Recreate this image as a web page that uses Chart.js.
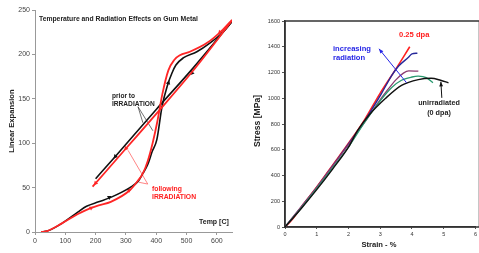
<!DOCTYPE html>
<html>
<head>
<meta charset="utf-8">
<script src="https://cdn.jsdelivr.net/npm/chart.js@4"></script>
<style>
  html, body { margin: 0; padding: 0; background: #fff; }
  #wrap { position: relative; width: 479px; height: 253px; overflow: hidden; }
  #left { position: absolute; left: 0; top: 0; }
  #right { position: absolute; left: 240px; top: 0; }
</style>
</head>
<body>
<div id="wrap">
  <canvas id="left" width="240" height="253"></canvas>
  <canvas id="right" width="239" height="253"></canvas>
</div>
<script>
// ---- left chart: linear expansion vs temperature ----
var tempHeatBlack = [20, 40, 90, 140, 170, 210, 250, 313, 340, 356, 372, 386, 402, 419, 437, 452, 465, 489, 534, 578, 620, 650];
var expHeatBlack  = [0, 1, 10, 22, 29, 34, 39, 50, 57, 66, 76, 90, 104, 141, 165, 179, 188, 196, 203, 213, 225, 237];
var tempHeatRed = [20, 40, 90, 140, 170, 210, 250, 313, 340, 356, 372, 388, 404, 420, 440, 460, 478, 511, 568, 620, 650];
var expHeatRed  = [0, 1, 10, 20, 25, 30, 34, 47, 58, 66, 80, 100, 125, 155, 182, 194, 199, 203, 213, 228, 239];
var tempCoolBlack = [650, 520, 400, 265, 200];
var expCoolBlack  = [237, 184, 138, 85, 60];
var tempCoolRed = [650, 520, 400, 300, 190];
var expCoolRed  = [238, 181, 133, 94, 51];
var tempTicks = [0, 100, 200, 300, 400, 500, 600];
var priorLine1 = [[340, 141], [356, 123]];
var priorLine2 = [[340, 141], [389, 114]];
var follLine1 = [[372, 54], [307, 92]];
var follLine2 = [[372, 54], [343, 56]];
var markBlack = [[245, 39, 60], [440, 168, 15], [265, 85, 221], [518, 179, 221]];
var markRed = [[185, 27, 60], [310, 47, 55], [200, 55, 221], [300, 94, 221], [610, 225, 221]];

// ---- right chart: stress vs strain ----
var strainRed = [0, 0.2, 0.5, 1, 1.5, 2, 2.5, 3, 3.5, 3.93];
var stressRed = [0, 50, 150, 310, 480, 650, 830, 1040, 1230, 1400];
var strainBlue = [0, 0.5, 1, 1.5, 2, 2.5, 3, 3.37, 3.58, 3.89, 4.0, 4.17];
var stressBlue = [0, 150, 305, 475, 645, 820, 1020, 1180, 1250, 1318, 1345, 1350];
var strainPurple = [0, 0.5, 1, 1.5, 2, 2.5, 3, 3.2, 3.5, 3.73, 3.9, 4.2];
var stressPurple = [0, 155, 310, 475, 640, 810, 990, 1055, 1145, 1195, 1212, 1210];
var strainGreen = [0, 0.5, 1, 1.5, 2, 2.5, 3, 3.37, 3.67, 4.0, 4.2, 4.45, 4.66];
var stressGreen = [0, 145, 300, 460, 620, 810, 980, 1085, 1140, 1165, 1172, 1160, 1120];
var strainBlack = [0, 0.5, 1, 1.5, 2, 2.29, 2.65, 3.17, 3.67, 4.2, 4.6, 4.9, 5.15];
var stressBlack = [0, 140, 290, 450, 620, 750, 870, 1000, 1100, 1145, 1155, 1140, 1120];
var arrowBlue = [[3.83, 1120], [2.96, 1384]];
var arrowBlack = [[4.94, 1003], [4.91, 1128]];

function pts(xs, ys) {
  return xs.map(function (x, i) { return { x: x, y: ys[i] }; });
}
function pairs(a) {
  return a.map(function (p) { return { x: p[0], y: p[1] }; });
}

Chart.defaults.font.family = "'Liberation Sans', Arial, sans-serif";
Chart.defaults.animation = false;

function txt(ctx, s, x, y, font, color, align) {
  ctx.save();
  ctx.font = font;
  ctx.fillStyle = color;
  ctx.textAlign = align || 'left';
  ctx.textBaseline = 'middle';
  ctx.fillText(s, x, y);
  ctx.restore();
}

function line(color, width) {
  return { type: 'scatter', showLine: true, borderColor: color, borderWidth: width, pointRadius: 0,
    tension: 0.4, cubicInterpolationMode: 'monotone', fill: false };
}

function marks(arr, color) {
  return {
    type: 'scatter', data: pairs(arr), showLine: false,
    pointStyle: 'triangle', pointRadius: 2.6, backgroundColor: color, borderColor: color, borderWidth: 0,
    rotation: function (c) { return arr[c.dataIndex] ? arr[c.dataIndex][2] : 0; }
  };
}

var leftText = {
  id: 'leftText',
  afterDraw: function (chart) {
    var ctx = chart.ctx;
    txt(ctx, 'Temperature and Radiation Effects on Gum Metal', 39, 19, 'bold 6.8px Liberation Sans', '#222');
    txt(ctx, 'prior to', 112, 96, 'bold 6.6px Liberation Sans', '#222');
    txt(ctx, 'IRRADIATION', 112, 104, 'bold 6.6px Liberation Sans', '#222');
    txt(ctx, 'following', 152, 189, 'bold 6.8px Liberation Sans', '#ff2020');
    txt(ctx, 'IRRADIATION', 152, 197, 'bold 6.8px Liberation Sans', '#ff2020');
    txt(ctx, 'Temp [C]', 199, 222, 'bold 7px Liberation Sans', '#222');
    ctx.save();
    ctx.translate(12, 121);
    ctx.rotate(-Math.PI / 2);
    txt(ctx, 'Linear Expansion', 0, 0, 'bold 7.6px Liberation Sans', '#222', 'center');
    ctx.restore();
  }
};

new Chart(document.getElementById('left'), {
  type: 'scatter',
  data: {
    datasets: [
      Object.assign(line('#ff2626', 1.8), { data: pts(tempHeatRed, expHeatRed) }),
      Object.assign(line('#ff2626', 1.8), { data: pts(tempCoolRed, expCoolRed), tension: 0 }),
      Object.assign(line('#111', 1.6), { data: pts(tempHeatBlack, expHeatBlack) }),
      Object.assign(line('#111', 1.6), { data: pts(tempCoolBlack, expCoolBlack), tension: 0 }),
      Object.assign(line('#333', 0.7), { data: pairs(priorLine1), tension: 0 }),
      Object.assign(line('#333', 0.7), { data: pairs(priorLine2), tension: 0 }),
      Object.assign(line('#ff5050', 0.7), { data: pairs(follLine1), tension: 0 }),
      Object.assign(line('#ff5050', 0.7), { data: pairs(follLine2), tension: 0 }),
      marks(markRed, '#ff2626'),
      marks(markBlack, '#111')
    ]
  },
  options: {
    responsive: false,
    layout: { padding: { top: 10, right: 8, left: 0, bottom: 0 } },
    plugins: { legend: { display: false }, tooltip: { enabled: false } },
    scales: {
      x: {
        type: 'linear', min: 0, max: 650,
        afterFit: function (s) { s.height = 21; },
        afterBuildTicks: function (s) { s.ticks = tempTicks.map(function (v) { return { value: v }; }); },
        border: { display: true, color: '#999', width: 1 },
        grid: { display: true, drawOnChartArea: false, tickLength: 3, color: '#999' },
        ticks: { autoSkip: false, maxRotation: 0, color: '#444', font: { size: 7 }, padding: 2 }
      },
      y: {
        type: 'linear', min: 0, max: 250,
        afterFit: function (s) { s.width = 35; },
        border: { display: true, color: '#999', width: 1 },
        grid: { display: true, drawOnChartArea: false, tickLength: 3, color: '#999' },
        ticks: { stepSize: 50, color: '#444', font: { size: 7 }, padding: 2 }
      }
    }
  },
  plugins: [leftText]
});

function arrow(ctx, xs, ys, a, color) {
  var x0 = xs.getPixelForValue(a[0][0]), y0 = ys.getPixelForValue(a[0][1]);
  var x1 = xs.getPixelForValue(a[1][0]), y1 = ys.getPixelForValue(a[1][1]);
  var ang = Math.atan2(y1 - y0, x1 - x0);
  ctx.save();
  ctx.strokeStyle = color; ctx.fillStyle = color; ctx.lineWidth = 1;
  ctx.beginPath(); ctx.moveTo(x0, y0); ctx.lineTo(x1, y1); ctx.stroke();
  ctx.beginPath();
  ctx.moveTo(x1, y1);
  ctx.lineTo(x1 - 5 * Math.cos(ang - 0.4), y1 - 5 * Math.sin(ang - 0.4));
  ctx.lineTo(x1 - 5 * Math.cos(ang + 0.4), y1 - 5 * Math.sin(ang + 0.4));
  ctx.closePath(); ctx.fill();
  ctx.restore();
}

var rightText = {
  id: 'rightText',
  beforeDatasetsDraw: function (chart) {
    var ctx = chart.ctx, a = chart.chartArea;
    ctx.save();
    ctx.strokeStyle = '#333';
    ctx.lineWidth = 1.5;
    ctx.strokeRect(a.left, a.top, a.right - a.left + 4, a.bottom - a.top);
    ctx.restore();
  },
  afterDraw: function (chart) {
    var ctx = chart.ctx, xs = chart.scales.x, ys = chart.scales.y;
    arrow(ctx, xs, ys, arrowBlue, '#2626e6');
    arrow(ctx, xs, ys, arrowBlack, '#111');
    txt(ctx, '0.25 dpa', 159, 35, 'bold 7.6px Liberation Sans', '#ff2020');
    txt(ctx, 'increasing', 93, 49, 'bold 7.6px Liberation Sans', '#2626e6');
    txt(ctx, 'radiation', 93, 58, 'bold 7.6px Liberation Sans', '#2626e6');
    txt(ctx, 'unirradiated', 199, 103, 'bold 7.2px Liberation Sans', '#222', 'center');
    txt(ctx, '(0 dpa)', 199, 113, 'bold 7.2px Liberation Sans', '#222', 'center');
    txt(ctx, 'Strain - %', 139, 245, 'bold 7.6px Liberation Sans', '#222', 'center');
    ctx.save();
    ctx.translate(18, 121);
    ctx.rotate(-Math.PI / 2);
    txt(ctx, 'Stress [MPa]', 0, 0, 'bold 8.6px Liberation Sans', '#222', 'center');
    ctx.restore();
  }
};

new Chart(document.getElementById('right'), {
  type: 'scatter',
  data: {
    datasets: [
      Object.assign(line('#111', 1.4), { data: pts(strainBlack, stressBlack) }),
      Object.assign(line('#2a9a70', 1.3), { data: pts(strainGreen, stressGreen), cubicInterpolationMode: 'default', tension: 0.3 }),
      Object.assign(line('#8a3a70', 1.3), { data: pts(strainPurple, stressPurple) }),
      Object.assign(line('#26289a', 1.4), { data: pts(strainBlue, stressBlue) }),
      Object.assign(line('#ff2020', 1.6), { data: pts(strainRed, stressRed) })
    ]
  },
  options: {
    responsive: false,
    layout: { padding: { top: 21, right: 1, left: 0, bottom: 0 } },
    plugins: { legend: { display: false }, tooltip: { enabled: false } },
    scales: {
      x: {
        type: 'linear', min: 0, max: 6,
        afterFit: function (s) { s.height = 26; },
        border: { display: true, color: '#333', width: 1.5 },
        grid: { display: true, drawOnChartArea: false, tickLength: 2, color: '#555' },
        ticks: { stepSize: 1, color: '#333', font: { size: 5.5 }, padding: 2 }
      },
      y: {
        type: 'linear', min: 0, max: 1600,
        afterFit: function (s) { s.width = 45; },
        border: { display: true, color: '#333', width: 1.5 },
        grid: { display: true, drawOnChartArea: false, tickLength: 3, color: '#555' },
        ticks: { stepSize: 200, color: '#333', font: { size: 5.5 }, padding: 2,
          callback: function (v) { return String(v); } }
      }
    }
  },
  plugins: [rightText]
});
</script>
</body>
</html>
